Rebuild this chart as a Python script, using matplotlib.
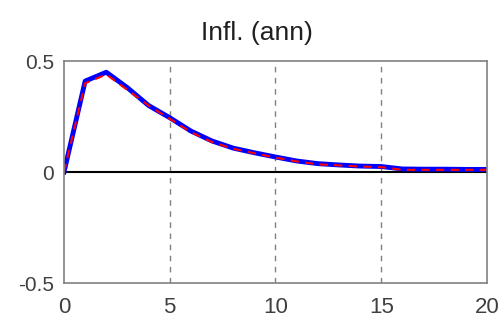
import matplotlib
matplotlib.use("Agg")
import matplotlib.pyplot as plt

horizon = list(range(0, 21))
irf_mean = [0.0, 0.41, 0.45, 0.38, 0.30, 0.245, 0.185, 0.14, 0.108, 0.087, 0.068,
            0.05, 0.038, 0.032, 0.027, 0.025, 0.014, 0.013, 0.013, 0.012, 0.012]
irf_median = [0.0, 0.40, 0.44, 0.37, 0.30, 0.24, 0.18, 0.135, 0.105, 0.085, 0.065,
              0.048, 0.035, 0.030, 0.025, 0.022, 0.010, 0.010, 0.010, 0.010, 0.010]
xticks = [0, 5, 10, 15, 20]
yticks = [-0.5, 0, 0.5]
ytick_labels = ["-0.5", "0", "0.5"]

plt.rcParams["font.family"] = ["Liberation Sans", "DejaVu Sans"]

fig = plt.figure(figsize=(5.02, 3.2), dpi=100)
ax = fig.add_axes([0.1275, 0.1156, 0.8425, 0.6934])

for x in xticks[1:-1]:
    ax.axvline(x, color="#808080", linestyle=(0, (4, 4)), linewidth=1)
ax.axhline(0, color="black", linewidth=1.5)

ax.plot(horizon, irf_mean, color="blue", linewidth=3.5)
ax.plot(horizon, irf_median, color="red", linewidth=1.5, linestyle=(0, (4, 3)))

ax.set_xlim(0, 20)
ax.set_ylim(-0.5, 0.5)
ax.set_xticks(xticks)
ax.set_yticks(yticks)
ax.set_yticklabels(ytick_labels)
ax.tick_params(length=0, colors="#404040")
ax.tick_params(axis="x", labelsize=16, pad=10)
ax.tick_params(axis="y", labelsize=15, pad=7)
for s in ax.spines.values():
    s.set_color("#808080")
    s.set_linewidth(1.2)

ax.set_title("Infl. (ann)", fontsize=19, color="#202020", pad=15, x=0.456)

fig.savefig("out.png", dpi=100)
